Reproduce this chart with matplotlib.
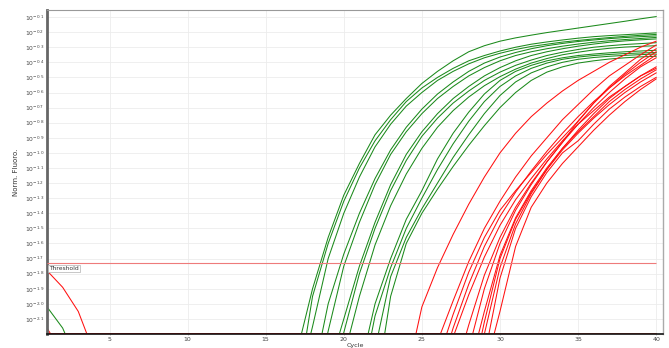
import numpy as np
import matplotlib
matplotlib.use('Agg')
import matplotlib.pyplot as plt
from matplotlib.ticker import NullLocator

# ---- data: log10(normalised fluorescence) ----
CYCLES = np.arange(1, 41)
BASELINE = -2.2          # clamped floor of the instrument (bottom of axis)
THRESHOLD = -1.73
Y_TICKS = [-0.1, -0.2, -0.3, -0.4, -0.5, -0.6, -0.7, -0.8, -0.9, -1.0, -1.1,
           -1.2, -1.3, -1.4, -1.5, -1.6, -1.7, -1.8, -1.9, -2.0, -2.1]
X_TICKS = [5, 10, 15, 20, 25, 30, 35, 40]

# early-cycle drift (first listed value is cycle 1)
drift_red_a = [-1.78, -1.89, -2.05, -2.32]
drift_red_b = [-2.16, -2.33]
drift_green = [-2.02, -2.16, -2.40]

# green wells: first cycle listed, then one value per cycle up to 40
green_start = [17, 17, 17, 18, 18, 19, 19, 20, 21, 21, 22, 22]
green_vals = [
    [-2.32, -1.90, -1.56, -1.28, -1.07, -0.88, -0.75, -0.64, -0.54, -0.46, -0.39, -0.33,
     -0.29, -0.26, -0.238, -0.22, -0.203, -0.188, -0.173, -0.158, -0.143, -0.128, -0.112, -0.097],
    [-2.59, -1.95, -1.60, -1.32, -1.10, -0.92, -0.78, -0.66, -0.57, -0.50, -0.44, -0.39,
     -0.355, -0.325, -0.30, -0.28, -0.265, -0.252, -0.24, -0.23, -0.223, -0.217, -0.211, -0.205],
    [-2.57, -2.15, -1.70, -1.40, -1.16, -0.96, -0.81, -0.69, -0.60, -0.52, -0.46, -0.41,
     -0.37, -0.34, -0.315, -0.295, -0.28, -0.266, -0.255, -0.245, -0.236, -0.228, -0.221, -0.215],
    [-2.50, -2.00, -1.67, -1.40, -1.17, -0.98, -0.83, -0.71, -0.61, -0.53, -0.46,
     -0.405, -0.365, -0.335, -0.31, -0.29, -0.275, -0.262, -0.252, -0.243, -0.236, -0.23, -0.225],
    [-2.65, -2.18, -1.75, -1.46, -1.21, -1.01, -0.86, -0.74, -0.64, -0.56, -0.49,
     -0.435, -0.39, -0.355, -0.33, -0.31, -0.293, -0.279, -0.267, -0.257, -0.249, -0.242, -0.235],
    [-2.45, -2.10, -1.75, -1.46, -1.21, -1.01, -0.86, -0.74, -0.64, -0.56, -0.49,
     -0.435, -0.39, -0.355, -0.33, -0.31, -0.293, -0.279, -0.267, -0.258, -0.251, -0.245],
    [-2.60, -2.19, -1.80, -1.50, -1.25, -1.05, -0.89, -0.77, -0.67, -0.59, -0.52,
     -0.465, -0.42, -0.385, -0.355, -0.333, -0.315, -0.30, -0.29, -0.282, -0.276, -0.27],
    [-2.35, -1.95, -1.61, -1.35, -1.14, -0.97, -0.83, -0.72, -0.63, -0.555, -0.495,
     -0.445, -0.405, -0.375, -0.35, -0.333, -0.318, -0.307, -0.299, -0.294, -0.29],
    [-2.45, -2.00, -1.70, -1.44, -1.25, -1.04, -0.87, -0.73, -0.61, -0.52, -0.46,
     -0.42, -0.39, -0.37, -0.355, -0.345, -0.337, -0.33, -0.325, -0.32],
    [-2.60, -2.08, -1.76, -1.50, -1.30, -1.11, -0.94, -0.79, -0.66, -0.56, -0.49,
     -0.44, -0.405, -0.38, -0.365, -0.355, -0.348, -0.342, -0.338, -0.335],
    [-2.30, -1.82, -1.56, -1.37, -1.20, -1.03, -0.88, -0.74, -0.62, -0.53,
     -0.47, -0.43, -0.40, -0.38, -0.368, -0.36, -0.354, -0.349, -0.345],
    [-2.60, -1.95, -1.60, -1.40, -1.24, -1.09, -0.95, -0.82, -0.70, -0.60,
     -0.52, -0.465, -0.43, -0.405, -0.39, -0.378, -0.37, -0.364, -0.36],
]

# red wells
red_start = [24, 26, 26, 26, 27, 27, 28, 28, 28, 28, 29, 29]
red_vals = [
    [-2.49, -2.02, -1.76, -1.54, -1.34, -1.16, -1.00, -0.87, -0.76, -0.67, -0.59,
     -0.52, -0.46, -0.40, -0.35, -0.30, -0.26],
    [-2.25, -1.98, -1.72, -1.50, -1.32, -1.16, -1.02, -0.90, -0.78, -0.68, -0.58,
     -0.49, -0.42, -0.35, -0.285],
    [-2.38, -2.07, -1.79, -1.56, -1.38, -1.25, -1.13, -1.01, -0.90, -0.79, -0.67,
     -0.56, -0.47, -0.38, -0.31],
    [-2.50, -2.16, -1.87, -1.62, -1.42, -1.26, -1.12, -0.99, -0.87, -0.76, -0.66,
     -0.57, -0.49, -0.42, -0.35],
    [-2.22, -1.94, -1.69, -1.48, -1.31, -1.17, -1.04, -0.92, -0.81, -0.72,
     -0.63, -0.56, -0.49, -0.43],
    [-2.50, -2.14, -1.81, -1.56, -1.36, -1.20, -1.06, -0.93, -0.81, -0.70,
     -0.60, -0.51, -0.43, -0.37],
    [-2.30, -1.90, -1.60, -1.38, -1.21, -1.06, -0.93, -0.79, -0.67,
     -0.57, -0.48, -0.40, -0.33],
    [-2.45, -2.05, -1.68, -1.43, -1.25, -1.10, -0.97, -0.86, -0.76,
     -0.66, -0.58, -0.51, -0.45],
    [-2.60, -2.12, -1.70, -1.44, -1.26, -1.11, -0.98, -0.87, -0.77,
     -0.68, -0.60, -0.53, -0.47],
    [-2.65, -2.20, -1.76, -1.47, -1.27, -1.11, -0.97, -0.85, -0.74,
     -0.64, -0.56, -0.49, -0.44],
    [-2.35, -1.83, -1.50, -1.29, -1.13, -1.00, -0.92, -0.81, -0.71,
     -0.63, -0.56, -0.50],
    [-2.45, -2.05, -1.62, -1.36, -1.20, -1.07, -0.96, -0.85, -0.75,
     -0.66, -0.58, -0.51],
]

GREEN = '#1b8a1b'
RED = '#ff1010'


def well_series(start, vals):
    """Pad a well's readings with the clamped baseline to cover cycles 1-40."""
    pre = [BASELINE] * (start - 1)
    post = [BASELINE] * (len(CYCLES) - len(pre) - len(vals))
    return np.array(pre + list(vals) + post)


fig = plt.figure(figsize=(6.69, 3.48), dpi=100)
ax = fig.add_axes([0.0703, 0.040, 0.921, 0.931])

ax.set_yscale('log')

ax.plot(CYCLES, 10 ** well_series(1, drift_green), color=GREEN, lw=0.75)
for s, v in zip(green_start, green_vals):
    ax.plot(CYCLES, 10 ** well_series(s, v), color=GREEN, lw=0.75)
for s, v in zip(red_start, red_vals):
    ax.plot(CYCLES, 10 ** well_series(s, v), color=RED, lw=0.75)
ax.plot(CYCLES, 10 ** well_series(1, drift_red_a), color=RED, lw=0.75)
ax.plot(CYCLES, 10 ** well_series(1, drift_red_b), color=RED, lw=0.75)

# threshold line + label
ax.hlines(10 ** THRESHOLD, CYCLES[0], CYCLES[-1], color='#ee7b7b', lw=0.8, zorder=3)
ax.annotate('Threshold', xy=(CYCLES[0], 10 ** THRESHOLD), xytext=(1.6, -2.0),
            textcoords='offset points', ha='left', va='top', fontsize=4.3,
            color='#333333', zorder=4,
            bbox=dict(boxstyle='square,pad=0.18', fc='white', ec='#b0b0b0', lw=0.5))

ax.set_xlim(CYCLES[0], 40.45)
ax.set_ylim(10 ** BASELINE, 10 ** -0.054)

ax.set_yticks([10 ** t for t in Y_TICKS])
ax.set_yticklabels([r'$10^{%.1f}$' % t for t in Y_TICKS])
ax.yaxis.set_minor_locator(NullLocator())
ax.set_xticks(X_TICKS)
ax.set_xticklabels([str(t) for t in X_TICKS])

ax.tick_params(axis='y', length=0, pad=2, labelsize=4.3, labelcolor='#444444')
ax.tick_params(axis='x', length=1, width=0.5, color='#999999', pad=1.0,
               labelsize=4.5, labelcolor='#444444')

ax.grid(True, color='#ececec', lw=0.6)
ax.set_axisbelow(True)

ax.spines['left'].set_color('#666666')
ax.spines['left'].set_linewidth(2.0)
ax.spines['top'].set_color('#999999')
ax.spines['top'].set_linewidth(0.8)
ax.spines['right'].set_color('#aaaaaa')
ax.spines['right'].set_linewidth(1.0)
ax.spines['bottom'].set_color('#111111')
ax.spines['bottom'].set_linewidth(1.2)

ax.set_xlabel('Cycle', fontsize=4.6, color='#333333')
ax.xaxis.set_label_coords(0.5, -0.026)
ax.set_ylabel('Norm. Fluoro.', fontsize=5, color='#333333')
ax.yaxis.set_label_coords(-0.045, 0.5)

plt.savefig('out.png', dpi=100)
plt.close()
